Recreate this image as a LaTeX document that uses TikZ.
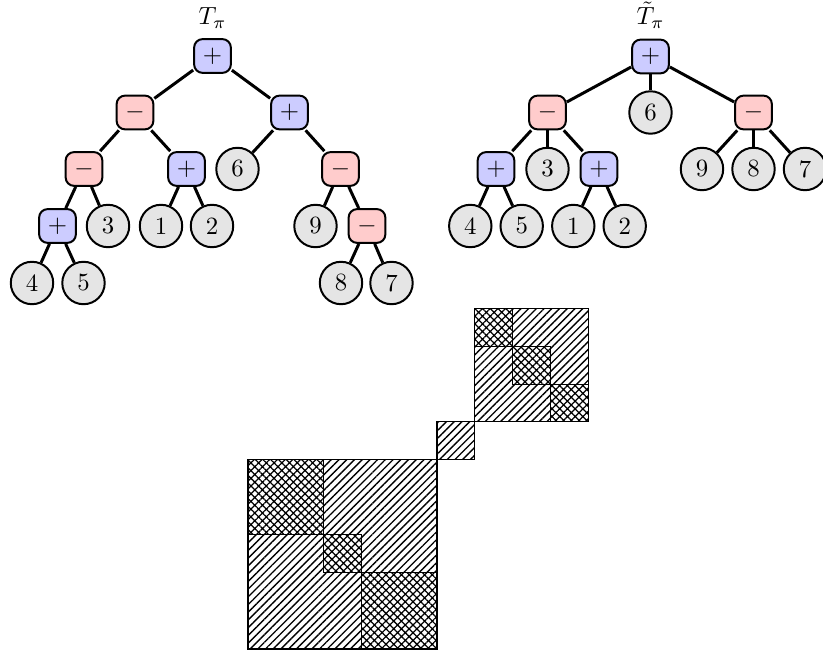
\documentclass[tikz,border=0pt]{standalone}
\usetikzlibrary{patterns.meta}
\begin{document}
\begin{tikzpicture}[x=0.403pt,y=-0.403pt,
  op/.style={draw, line width=0.8pt, rounded corners=3.4pt, minimum width=14.8pt, minimum height=13.6pt, inner sep=0pt},
  plusop/.style={op, fill=blue!20},
  minusop/.style={op, fill=red!20},
  leaf/.style={draw, circle, line width=0.8pt, fill=gray!20, minimum size=17.1pt, inner sep=0pt},
  edge/.style={line width=1.2pt},
  hlines/.style={draw, line width=0.5pt, preaction={fill=white}, pattern={Lines[angle=45,distance=2.2pt,line width=0.55pt]}},
  hcross/.style={draw, line width=0.5pt, preaction={fill=white}, pattern={Hatch[angle=45,distance=2.2pt,line width=0.5pt]}},
]
\useasboundingbox (0,0) rectangle (823,652);

% ---------- left tree T_pi ----------
\node[anchor=base] (lt) at (212.5,25) {$T_\pi$};
\node[plusop]  (r1) at (212.5,56) {$+$};
\node[minusop] (a1) at (135,112.5) {$-$};
\node[plusop]  (b1) at (289.5,112.5) {$+$};
\node[minusop] (c1) at (84,169) {$-$};
\node[plusop]  (d1) at (186.5,169) {$+$};
\node[leaf]    (n6) at (237.5,169) {6};
\node[minusop] (e1) at (340.5,169) {$-$};
\node[plusop]  (f1) at (57.5,226) {$+$};
\node[leaf]    (n3) at (108,226) {3};
\node[leaf]    (n1) at (161,226) {1};
\node[leaf]    (n2) at (212,226) {2};
\node[leaf]    (n9) at (315.5,226) {9};
\node[minusop] (g1) at (367,226) {$-$};
\node[leaf]    (n4) at (32,283) {4};
\node[leaf]    (n5) at (83.5,283) {5};
\node[leaf]    (n8) at (341,283) {8};
\node[leaf]    (n7) at (391.5,283) {7};

\draw[edge] (r1) -- (a1);
\draw[edge] (r1) -- (b1);
\draw[edge] (a1) -- (c1);
\draw[edge] (a1) -- (d1);
\draw[edge] (b1) -- (n6);
\draw[edge] (b1) -- (e1);
\draw[edge] (c1) -- (f1);
\draw[edge] (c1) -- (n3);
\draw[edge] (d1) -- (n1);
\draw[edge] (d1) -- (n2);
\draw[edge] (e1) -- (n9);
\draw[edge] (e1) -- (g1);
\draw[edge] (f1) -- (n4);
\draw[edge] (f1) -- (n5);
\draw[edge] (g1) -- (n8);
\draw[edge] (g1) -- (n7);

% ---------- right tree tilde T_pi ----------
\node[anchor=base] (rt) at (650.5,25) {$\tilde{T}_\pi$};
\node[plusop]  (R)  at (650.5,56.5) {$+$};
\node[minusop] (A)  at (547.5,112.5) {$-$};
\node[leaf]    (m6) at (650.5,112.5) {6};
\node[minusop] (B)  at (753.5,112.5) {$-$};
\node[plusop]  (C)  at (496,169) {$+$};
\node[leaf]    (m3) at (547.5,169) {3};
\node[plusop]  (D)  at (599,169) {$+$};
\node[leaf]    (m9) at (702,169) {9};
\node[leaf]    (m8) at (753.5,169) {8};
\node[leaf]    (m7) at (805,169) {7};
\node[leaf]    (m4) at (470.3,226) {4};
\node[leaf]    (m5) at (521.7,226) {5};
\node[leaf]    (m1) at (573.3,226) {1};
\node[leaf]    (m2) at (624.7,226) {2};

\draw[edge] (R) -- (A);
\draw[edge] (R) -- (m6);
\draw[edge] (R) -- (B);
\draw[edge] (A) -- (C);
\draw[edge] (A) -- (m3);
\draw[edge] (A) -- (D);
\draw[edge] (B) -- (m9);
\draw[edge] (B) -- (m8);
\draw[edge] (B) -- (m7);
\draw[edge] (C) -- (m4);
\draw[edge] (C) -- (m5);
\draw[edge] (D) -- (m1);
\draw[edge] (D) -- (m2);

% ---------- permutation matrix ----------
% bottom-left block (5x5)
\draw[hlines] (248,459.2) rectangle (437,649);
\draw[hcross] (248,459.2) rectangle (323.6,534.8);
\draw[hcross] (323.6,534.8) rectangle (361.4,572.6);
\draw[hcross] (361.4,572.6) rectangle (437,649);
% middle block (1x1)
\draw[hlines] (437,421.4) rectangle (474.8,459.2);
% top-right block (3x3)
\draw[hlines] (474.8,308.8) rectangle (588.2,421.4);
\draw[hcross] (474.8,308.8) rectangle (512.6,346.6);
\draw[hcross] (512.6,346.6) rectangle (550.4,384.4);
\draw[hcross] (550.4,384.4) rectangle (588.2,421.4);
\end{tikzpicture}
\end{document}
